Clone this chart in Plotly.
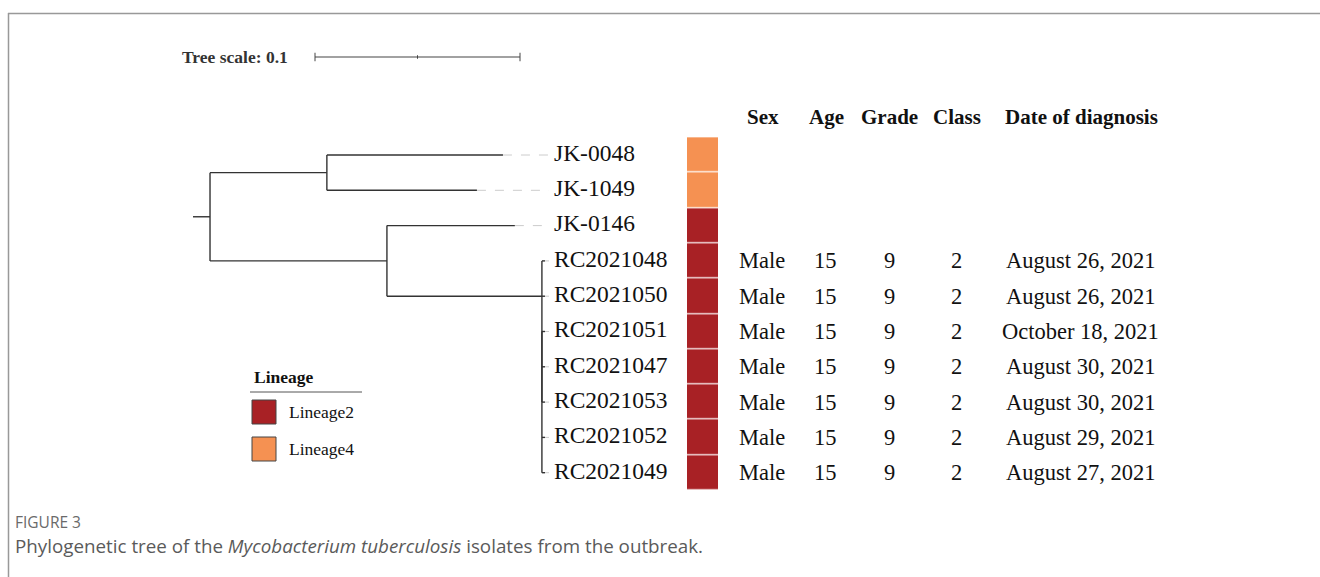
import plotly.graph_objects as go

# ---------------- data ----------------
newick = ("((JK-0048:0.0859,JK-1049:0.0732):0.057,(JK-0146:0.0624,(RC2021048:0.0015,RC2021050:0.0015,"
          "(RC2021051:0.0015,RC2021047:0.0015,RC2021053:0.0015,RC2021052:0.0015,RC2021049:0.0015):0)"
          ":0.0756):0.0863):0.0083;")
taxa = ["JK-0048", "JK-1049", "JK-0146", "RC2021048", "RC2021050", "RC2021051",
        "RC2021047", "RC2021053", "RC2021052", "RC2021049"]
lineage = ["Lineage4", "Lineage4", "Lineage2", "Lineage2", "Lineage2", "Lineage2",
           "Lineage2", "Lineage2", "Lineage2", "Lineage2"]
sex = ["", "", "", "Male", "Male", "Male", "Male", "Male", "Male", "Male"]
age = ["", "", "", "15", "15", "15", "15", "15", "15", "15"]
grade = ["", "", "", "9", "9", "9", "9", "9", "9", "9"]
klass = ["", "", "", "2", "2", "2", "2", "2", "2", "2"]
diag_date = ["", "", "", "August 26, 2021", "August 26, 2021", "October 18, 2021",
             "August 30, 2021", "August 30, 2021", "August 29, 2021", "August 27, 2021"]
table_headers = ["Sex", "Age", "Grade", "Class", "Date of diagnosis"]
lineage_names = ["Lineage2", "Lineage4"]
lineage_colors = ["#A82125", "#F59152"]
tree_scale = 0.1

# ---------------- newick parsing ----------------
def parse(s):
    s = s.strip().rstrip(";")
    pos = [0]

    def node():
        n = {"name": "", "len": 0.0, "children": []}
        if s[pos[0]] == "(":
            pos[0] += 1
            while True:
                n["children"].append(node())
                if s[pos[0]] == ",":
                    pos[0] += 1
                    continue
                if s[pos[0]] == ")":
                    pos[0] += 1
                    break
        start = pos[0]
        while pos[0] < len(s) and s[pos[0]] not in ",():":
            pos[0] += 1
        n["name"] = s[start:pos[0]]
        if pos[0] < len(s) and s[pos[0]] == ":":
            pos[0] += 1
            start = pos[0]
            while pos[0] < len(s) and s[pos[0]] not in ",()":
                pos[0] += 1
            n["len"] = float(s[start:pos[0]])
        return n
    return node()

root = parse(newick)
row_of = {t: i for i, t in enumerate(taxa)}

def layout(n, x0):
    n["x"] = x0 + n["len"]
    if not n["children"]:
        n["y"] = row_of[n["name"]]
    else:
        ys = sorted(layout(c, n["x"]) for c in n["children"])
        k = len(ys)
        n["y"] = ys[k // 2] if k % 2 else (ys[k // 2 - 1] + ys[k // 2]) / 2
    return n["y"]

layout(root, 0.0)

lx, ly = [0.0, root["x"], None], [root["y"], root["y"], None]
tips = []

def collect(n):
    if not n["children"]:
        tips.append(n)
        return
    cy = [c["y"] for c in n["children"]]
    lx.extend([n["x"], n["x"], None]); ly.extend([min(cy), max(cy), None])
    for c in n["children"]:
        lx.extend([n["x"], c["x"], None]); ly.extend([c["y"], c["y"], None])
        collect(c)

collect(root)

# ---------------- pixel geometry ----------------
W, H = 1320, 577
PX_PER_UNIT = 2050.0
X0_PX = 193.0
ROW0_PX, ROW_STEP = 155.0, 35.3

def px_to_x(px):
    return (px - X0_PX) / PX_PER_UNIT

def px_to_row(py):
    return (py - ROW0_PX) / ROW_STEP

SERIF = "Liberation Serif, Times New Roman, serif"
SANS = "Open Sans, Lato, sans-serif"

fig = go.Figure()

# leader lines
leader_end = px_to_x(549)
dx, dy = [], []
for t in tips:
    dx.extend([t["x"], leader_end, None]); dy.extend([t["y"], t["y"], None])
fig.add_trace(go.Scatter(x=dx, y=dy, mode="lines",
                         line=dict(color="#cccccc", width=1, dash="dash"),
                         hoverinfo="skip", showlegend=False))
# tree branches
fig.add_trace(go.Scatter(x=lx, y=ly, mode="lines",
                         line=dict(color="#333333", width=1.4),
                         hoverinfo="skip", showlegend=False))
# tip labels
fig.add_trace(go.Scatter(x=[px_to_x(554)] * len(taxa), y=list(range(len(taxa))),
                         mode="text", text=taxa, textposition="middle right",
                         textfont=dict(family=SERIF, size=23.5, color="#111111"),
                         hoverinfo="skip", showlegend=False))
# scale bar
sb_y = px_to_row(57)
sb_x0 = px_to_x(315)
fig.add_trace(go.Scatter(x=[sb_x0, sb_x0 + tree_scale], y=[sb_y, sb_y], mode="lines",
                         line=dict(color="#444444", width=1.2),
                         hoverinfo="skip", showlegend=False))
cap = 0.12
for xv, c in [(sb_x0, cap), (sb_x0 + tree_scale, cap), (sb_x0 + tree_scale / 2, 0.05)]:
    fig.add_trace(go.Scatter(x=[xv, xv], y=[sb_y - c, sb_y + c], mode="lines",
                             line=dict(color="#444444", width=1),
                             hoverinfo="skip", showlegend=False))
fig.add_annotation(x=290 / W, y=1 - 57 / H, xref="paper", yref="paper",
                   text="<b>Tree scale: %g</b>" % tree_scale, showarrow=False,
                   xanchor="right", yanchor="middle",
                   font=dict(family=SERIF, size=17.5, color="#333333"))

# lineage strip
zvals = [[lineage_names.index(l)] for l in lineage]
fig.add_trace(go.Heatmap(z=zvals, x=[0], y=list(range(len(taxa))), xaxis="x2", yaxis="y",
                         colorscale=[[0, lineage_colors[0]], [0.5, lineage_colors[0]],
                                     [0.5, lineage_colors[1]], [1, lineage_colors[1]]],
                         zmin=0, zmax=1, showscale=False, ygap=1.2, hoverinfo="skip"))

# table
col_px = [762, 825, 889, 956, 1080]
cols = [sex, age, grade, klass, diag_date]
for cx, hdr, vals in zip(col_px, table_headers, cols):
    fig.add_annotation(x=(cx + 1) / W, y=1 - 117 / H, xref="paper", yref="paper",
                       text="<b>%s</b>" % hdr, showarrow=False, xanchor="center",
                       yanchor="middle", font=dict(family=SERIF, size=21, color="#111111"))
    for i, v in enumerate(vals):
        if v:
            fig.add_annotation(x=cx / W, y=i, xref="paper", yref="y", text=v,
                               showarrow=False, xanchor="center", yanchor="middle",
                               font=dict(family=SERIF, size=22.5, color="#111111"))

# legend
shapes = []
fig.add_annotation(x=252 / W, y=1 - 377 / H, xref="paper", yref="paper",
                   text="<b>Lineage</b>", showarrow=False, xanchor="left", yanchor="middle",
                   font=dict(family=SERIF, size=17.5, color="#111111"))
shapes.append(dict(type="line", xref="paper", yref="paper", x0=250 / W, x1=362 / W,
                   y0=1 - 392 / H, y1=1 - 392 / H, line=dict(color="#555555", width=1)))
for k, (nm, colr) in enumerate(zip(lineage_names, lineage_colors)):
    top = 400 + k * 37
    shapes.append(dict(type="rect", xref="paper", yref="paper", x0=252 / W, x1=276 / W,
                       y0=1 - top / H, y1=1 - (top + 24) / H, fillcolor=colr,
                       line=dict(color="#444444", width=1)))
    fig.add_annotation(x=287 / W, y=1 - (top + 12) / H, xref="paper", yref="paper",
                       text=nm, showarrow=False, xanchor="left", yanchor="middle",
                       font=dict(family=SERIF, size=17.5, color="#111111"))

# caption
fig.add_annotation(x=13 / W, y=1 - 522 / H, xref="paper", yref="paper", text="FIGURE 3",
                   showarrow=False, xanchor="left", yanchor="middle",
                   font=dict(family=SANS, size=15.5, color="#6a6a6a"))
fig.add_annotation(x=13 / W, y=1 - 546 / H, xref="paper", yref="paper",
                   text="Phylogenetic tree of the <i>Mycobacterium tuberculosis</i> isolates from the outbreak.",
                   showarrow=False, xanchor="left", yanchor="middle",
                   font=dict(family=SANS, size=18.8, color="#5a5a5a"))

# frame
shapes.append(dict(type="line", xref="paper", yref="paper", x0=8.5 / W, x1=8.5 / W,
                   y0=0, y1=1 - 13 / H, line=dict(color="#999999", width=1.5)))
shapes.append(dict(type="line", xref="paper", yref="paper", x0=8 / W, x1=1,
                   y0=1 - 13.5 / H, y1=1 - 13.5 / H, line=dict(color="#999999", width=1.5)))

fig.update_layout(
    width=W, height=H, margin=dict(l=0, r=0, t=0, b=0),
    paper_bgcolor="white", plot_bgcolor="white", shapes=shapes,
    xaxis=dict(range=[px_to_x(0), px_to_x(W)], visible=False, domain=[0, 1]),
    xaxis2=dict(range=[-0.5, 0.5], domain=[687 / W, 718 / W], visible=False, anchor="y"),
    yaxis=dict(range=[px_to_row(H), px_to_row(0)], visible=False, domain=[0, 1]),
)
fig.write_html("out.html", config={"displayModeBar": False},
               post_script="document.body.style.margin='0px';document.body.style.overflow='hidden';")
